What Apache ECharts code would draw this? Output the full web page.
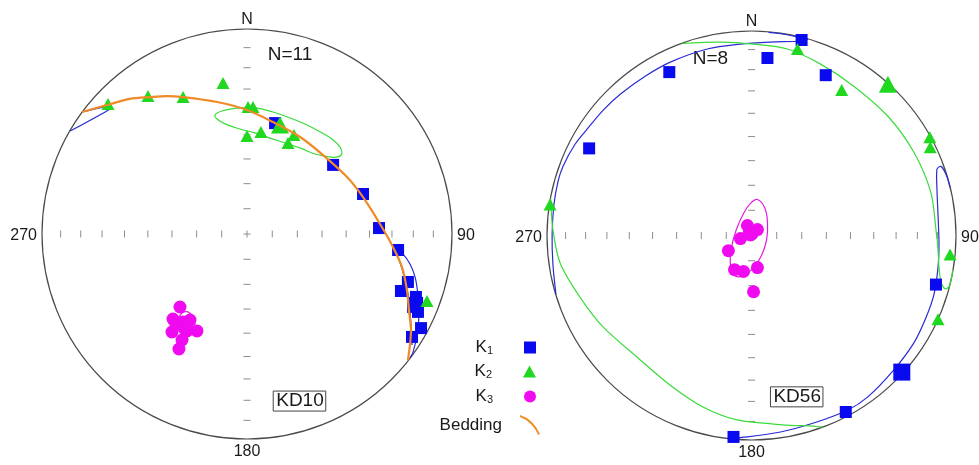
<!DOCTYPE html>
<html>
<head>
<meta charset="utf-8">
<script src="https://cdn.jsdelivr.net/npm/echarts@6/dist/echarts.min.js"></script>
<style>
  html, body { margin: 0; padding: 0; background: #fff; }
  #chart { width: 979px; height: 465px; }
</style>
</head>
<body>
<div id="chart"></div>
<script>
// Lower-hemisphere equal-area (Schmidt) nets of AMS principal axes.
// All positions are in net units: [east, north], primitive radius = 1.

// ---- Site KD10 ----
const kd10K1 = [[0.137, 0.541], [0.420, 0.337], [0.566, 0.195], [0.644, 0.029], [0.737, -0.078],
  [0.785, -0.234], [0.751, -0.278], [0.824, -0.307], [0.834, -0.380], [0.849, -0.459], [0.805, -0.502]];
const kd10K1Mean = [[0.820, -0.346]];
const kd10K2 = [[-0.678, 0.634], [-0.483, 0.673], [-0.312, 0.668], [-0.117, 0.737], [0.005, 0.620],
  [0.029, 0.620], [0.068, 0.498], [0.000, 0.478], [0.229, 0.483], [0.200, 0.444], [0.878, -0.327]];
const kd10K2Mean = [[0.161, 0.532]];
const kd10K3 = [[-0.327, -0.356], [-0.361, -0.415], [-0.312, -0.429], [-0.244, -0.473], [-0.366, -0.478],
  [-0.293, -0.473], [-0.317, -0.517], [-0.332, -0.561], [-0.346, -0.444], [-0.278, -0.420], [-0.307, -0.459]];
const kd10K3Mean = [[-0.302, -0.449]];
const kd10Bedding = [[-0.805, 0.595], [-0.683, 0.629], [-0.571, 0.659], [-0.473, 0.668], [-0.390, 0.673],
  [-0.312, 0.668], [-0.146, 0.644], [0.000, 0.605], [0.127, 0.546], [0.259, 0.473], [0.371, 0.385],
  [0.488, 0.278], [0.566, 0.180], [0.649, 0.049], [0.712, -0.063], [0.756, -0.161], [0.780, -0.273],
  [0.790, -0.371], [0.800, -0.468], [0.795, -0.541], [0.785, -0.615]];
const kd10K1ConfWest = [[-0.805, 0.595], [-0.673, 0.624], [-0.668, 0.610], [-0.863, 0.502]];
const kd10K1ConfEast = [[0.805, -0.541], [0.800, -0.444], [0.790, -0.322], [0.771, -0.224], [0.746, -0.137],
  [0.717, -0.063], [0.761, -0.098], [0.795, -0.146], [0.820, -0.210], [0.834, -0.298], [0.839, -0.395],
  [0.829, -0.493], [0.810, -0.576], [0.795, -0.605]];
const kd10K2Conf = [[-0.156, 0.580], [-0.122, 0.600], [-0.034, 0.615], [0.044, 0.615], [0.127, 0.595],
  [0.210, 0.566], [0.293, 0.532], [0.366, 0.493], [0.420, 0.459], [0.454, 0.424], [0.463, 0.395],
  [0.444, 0.376], [0.405, 0.376], [0.332, 0.390], [0.259, 0.420], [0.185, 0.444], [0.127, 0.463],
  [0.039, 0.493], [-0.034, 0.512], [-0.107, 0.537], [-0.146, 0.561]];
const kd10K3Conf = [[-0.332, -0.410], [-0.317, -0.385], [-0.288, -0.380], [-0.263, -0.405], [-0.254, -0.444],
  [-0.263, -0.483], [-0.293, -0.498], [-0.322, -0.483], [-0.337, -0.449]];

// ---- Site KD56 ----
const kd56K1 = [[0.245, 0.956], [0.078, 0.868], [-0.402, 0.799], [0.363, 0.784], [-0.794, 0.426],
  [0.902, -0.240], [0.461, -0.863], [-0.088, -0.985]];
const kd56K1Mean = [[0.735, -0.668]];
const kd56K2 = [[0.225, 0.912], [0.441, 0.711], [0.872, 0.480], [0.874, 0.432], [-0.985, 0.152],
  [0.971, -0.093], [0.912, -0.410]];
const kd56K2Mean = [[0.667, 0.740]];
const kd56K3 = [[-0.020, 0.049], [0.029, 0.029], [-0.054, -0.015], [-0.113, -0.074], [-0.083, -0.167],
  [-0.039, -0.176], [0.029, -0.157], [0.010, -0.275]];
const kd56K3Mean = [[-0.005, 0.010]];
const kd56K1ConfEast = [[0.971, 0.235], [0.951, 0.299], [0.926, 0.338], [0.907, 0.324], [0.907, 0.225],
  [0.912, 0.103], [0.917, -0.044], [0.912, -0.157], [0.892, -0.289], [0.853, -0.402], [0.794, -0.525],
  [0.696, -0.657], [0.569, -0.789], [0.471, -0.853], [0.304, -0.917], [0.142, -0.961], [-0.020, -0.985],
  [-0.115, -0.992]];
const kd56K1ConfWest = [[-0.956, -0.289], [-0.971, -0.142], [-0.975, 0.005], [-0.966, 0.152], [-0.946, 0.265],
  [-0.922, 0.338], [-0.863, 0.446], [-0.804, 0.520], [-0.725, 0.613], [-0.642, 0.691], [-0.520, 0.779],
  [-0.397, 0.848], [-0.216, 0.912], [-0.054, 0.936], [0.093, 0.946], [0.240, 0.951], [0.275, 0.961],
  [0.238, 0.968], [0.166, 0.983], [0.083, 0.993]];
const kd56K2ConfNorth = [[-0.338, 0.939], [-0.152, 0.946], [0.010, 0.936], [0.176, 0.912], [0.338, 0.838],
  [0.500, 0.730], [0.667, 0.583], [0.794, 0.407], [0.877, 0.211], [0.902, 0.029], [0.912, -0.069],
  [0.917, -0.157], [0.926, -0.225], [0.946, -0.260], [0.966, -0.250], [0.976, -0.215], [0.985, -0.165]];
const kd56K2ConfSouth = [[-0.982, 0.180], [-0.971, 0.027], [-0.936, -0.134], [-0.839, -0.301], [-0.726, -0.447],
  [-0.560, -0.594], [-0.399, -0.731], [-0.237, -0.839], [-0.071, -0.902], [0.174, -0.927], [0.301, -0.932],
  [0.334, -0.936], [0.350, -0.936]];
const kd56K3Conf = [[0.029, 0.176], [0.064, 0.137], [0.078, 0.069], [0.074, -0.020], [0.049, -0.098],
  [0.010, -0.157], [-0.039, -0.196], [-0.083, -0.196], [-0.103, -0.142], [-0.098, -0.059], [-0.074, 0.029],
  [-0.039, 0.108], [-0.005, 0.157]];

// Net graticule: plunge ticks along the N-S and E-W diameters (degrees)
const tickPlunges = [10, 20, 30, 40, 50, 60, 70, 80];
const cardinalLabels = ['N', '90', '180', '270'];
const siteNames = ['KD10', 'KD56'];
const sampleCounts = ['N=11', 'N=8'];

const BLUE = '#0a0af0';
const GREEN = '#1fd81f';
const MAGENTA = '#f00af0';
const ORANGE = '#f08a26';
const LINE_BLUE = '#2a2ad6';
const LINE_GREEN = '#3adc3a';
const LINE_MAGENTA = '#e01ce0';
const FONT = 'Liberation Sans, Arial, sans-serif';

const chart = echarts.init(document.getElementById('chart'), null, { renderer: 'canvas' });

// Text placement inside each net, in net units
const netText = [
  { count: [0.210, 0.873], site: [0.256, -0.815] },
  { count: [-0.201, 0.863], site: [0.221, -0.789] }
];

function frameSeries(gi) {
  return {
    type: 'custom',
    name: 'frame' + gi,
    xAxisIndex: gi, yAxisIndex: gi,
    data: [[0, 0]],
    silent: true,
    z: 1,
    renderItem: function (params, api) {
      const c = api.coord([0, 0]);
      const R = api.size([1, 1])[0];
      const kids = [];
      kids.push({ type: 'circle', shape: { cx: c[0], cy: c[1], r: R },
        style: { fill: 'none', stroke: '#4a4a4a', lineWidth: 1.2 } });
      const tickStyle = { stroke: '#8c8c8c', lineWidth: 1 };
      tickPlunges.forEach(function (p) {
        const d = Math.SQRT2 * Math.sin((90 - p) / 2 * Math.PI / 180) * R;
        [-1, 1].forEach(function (s) {
          kids.push({ type: 'line', shape: { x1: c[0] + s * d, y1: c[1] - 3.5, x2: c[0] + s * d, y2: c[1] + 3.5 }, style: tickStyle });
          kids.push({ type: 'line', shape: { x1: c[0] - 3.5, y1: c[1] + s * d, x2: c[0] + 3.5, y2: c[1] + s * d }, style: tickStyle });
        });
      });
      kids.push({ type: 'line', shape: { x1: c[0] - 3.5, y1: c[1], x2: c[0] + 3.5, y2: c[1] }, style: tickStyle });
      kids.push({ type: 'line', shape: { x1: c[0], y1: c[1] - 3.5, x2: c[0], y2: c[1] + 3.5 }, style: tickStyle });
      const lab = { fill: '#1a1a1a', fontSize: 16, fontFamily: FONT };
      kids.push({ type: 'text', x: c[0], y: c[1] - R - 1, style: Object.assign({ text: cardinalLabels[0], align: 'center', verticalAlign: 'bottom' }, lab) });
      kids.push({ type: 'text', x: c[0] + R + 5, y: c[1] + 2, style: Object.assign({ text: cardinalLabels[1], align: 'left', verticalAlign: 'middle' }, lab) });
      kids.push({ type: 'text', x: c[0], y: c[1] + R + 5, style: Object.assign({ text: cardinalLabels[2], align: 'center', verticalAlign: 'top' }, lab) });
      kids.push({ type: 'text', x: c[0] - R - 5, y: c[1] + 2, style: Object.assign({ text: cardinalLabels[3], align: 'right', verticalAlign: 'middle' }, lab) });
      const cp = api.coord(netText[gi].count);
      kids.push({ type: 'text', x: cp[0], y: cp[1], style: { text: sampleCounts[gi], align: 'center', verticalAlign: 'middle', fill: '#1a1a1a', fontSize: 19, fontFamily: FONT } });
      const sp = api.coord(netText[gi].site);
      kids.push({ type: 'text', x: sp[0], y: sp[1], style: { text: siteNames[gi], align: 'center', verticalAlign: 'middle', fill: '#1a1a1a', fontSize: 19, fontFamily: FONT,
        borderColor: '#444', borderWidth: 1, padding: [1, 2, 0, 3] } });
      return { type: 'group', children: kids };
    }
  };
}

function curveSeries(name, gi, pts, color, closed, smooth, z) {
  return {
    type: 'custom',
    name: name,
    xAxisIndex: gi, yAxisIndex: gi,
    data: pts,
    silent: true,
    z: z || 2,
    itemStyle: { color: color },
    renderItem: function (params, api) {
      if (params.dataIndex !== 0) return null;
      const p = pts.map(function (q) { return api.coord(q); });
      return {
        type: closed ? 'polygon' : 'polyline',
        shape: { points: p, smooth: smooth },
        style: { fill: 'none', stroke: color, lineWidth: z ? 2.2 : 1.2 }
      };
    }
  };
}

function markSeries(name, gi, pts, symbol, size, color, z) {
  return {
    type: 'scatter',
    name: name,
    xAxisIndex: gi, yAxisIndex: gi,
    data: pts,
    symbol: symbol,
    symbolSize: size,
    silent: true,
    z: z,
    itemStyle: { color: color, opacity: 1 }
  };
}

const series = [
  frameSeries(0),
  frameSeries(1),
  // confidence regions
  curveSeries('k1conf-a', 0, kd10K1ConfWest, LINE_BLUE, false, 0.2),
  curveSeries('k1conf-b', 0, kd10K1ConfEast, LINE_BLUE, false, 0.3),
  curveSeries('k2conf', 0, kd10K2Conf, LINE_GREEN, true, 0.4),
  curveSeries('k3conf', 0, kd10K3Conf, LINE_MAGENTA, true, 0.4),
  curveSeries('k1conf-c', 1, kd56K1ConfEast, LINE_BLUE, false, 0.3),
  curveSeries('k1conf-d', 1, kd56K1ConfWest, LINE_BLUE, false, 0.3),
  curveSeries('k2conf-b', 1, kd56K2ConfNorth, LINE_GREEN, false, 0.3),
  curveSeries('k2conf-c', 1, kd56K2ConfSouth, LINE_GREEN, false, 0.3),
  curveSeries('k3conf-b', 1, kd56K3Conf, LINE_MAGENTA, true, 0.4),
  // principal axes
  markSeries('K1', 0, kd10K1, 'rect', 12, BLUE, 3),
  markSeries('K1', 0, kd10K1Mean, 'rect', 16, BLUE, 3),
  markSeries('K1', 1, kd56K1, 'rect', 12, BLUE, 3),
  markSeries('K1', 1, kd56K1Mean, 'rect', 17, BLUE, 3),
  markSeries('K2', 0, kd10K2, 'triangle', [13, 12], GREEN, 4),
  markSeries('K2', 0, kd10K2Mean, 'triangle', [18, 17], GREEN, 4),
  markSeries('K2', 1, kd56K2, 'triangle', [13, 12], GREEN, 4),
  markSeries('K2', 1, kd56K2Mean, 'triangle', [18, 17], GREEN, 4),
  markSeries('K3', 0, kd10K3, 'circle', 13, MAGENTA, 5),
  markSeries('K3', 0, kd10K3Mean, 'circle', 15, MAGENTA, 5),
  markSeries('K3', 1, kd56K3, 'circle', 13, MAGENTA, 5),
  markSeries('K3', 1, kd56K3Mean, 'circle', 16, MAGENTA, 5),
  // bedding plane great circle
  curveSeries('Bedding', 0, kd10Bedding, ORANGE, false, 0.3, 6)
];

const legendRich = {
  k: { fontSize: 17, fontFamily: FONT, color: '#1a1a1a', verticalAlign: 'bottom' },
  s: { fontSize: 11, fontFamily: FONT, color: '#1a1a1a', verticalAlign: 'bottom' },
  sp: { width: 26 },
  sb: { width: 12 },
  b: { fontSize: 17, fontFamily: FONT, color: '#1a1a1a' }
};
function legendFor(name, icon, w, h, right, top, text) {
  return {
    data: [{ name: name, icon: icon }],
    orient: 'vertical',
    align: 'right',
    right: right,
    top: top,
    padding: 0,
    itemWidth: w,
    itemHeight: h,
    selectedMode: false,
    formatter: function () { return text; },
    textStyle: { rich: legendRich }
  };
}

chart.setOption({
  animation: false,
  backgroundColor: '#ffffff',
  grid: [
    { left: 42, top: 29, width: 410, height: 410 },
    { left: 547, top: 31, width: 409, height: 409 }
  ],
  xAxis: [
    { gridIndex: 0, type: 'value', min: -1, max: 1, show: false },
    { gridIndex: 1, type: 'value', min: -1, max: 1, show: false }
  ],
  yAxis: [
    { gridIndex: 0, type: 'value', min: -1, max: 1, show: false },
    { gridIndex: 1, type: 'value', min: -1, max: 1, show: false }
  ],
  legend: [
    legendFor('K1', 'rect', 12, 12, 443, 339, '{k|K}{s|1}{sp| }'),
    legendFor('K2', 'triangle', 13, 12, 443, 363, '{k|K}{s|2}{sp| }'),
    legendFor('K3', 'circle', 12, 12, 443, 388, '{k|K}{s|3}{sp| }'),
    legendFor('Bedding', 'path://M0,0 Q13,4 20,19 L18.4,20 Q12,6.5 0,2 Z', 22, 20, 439, 415, '{b|Bedding}{sb| }')
  ],
  series: series
});
</script>
</body>
</html>
